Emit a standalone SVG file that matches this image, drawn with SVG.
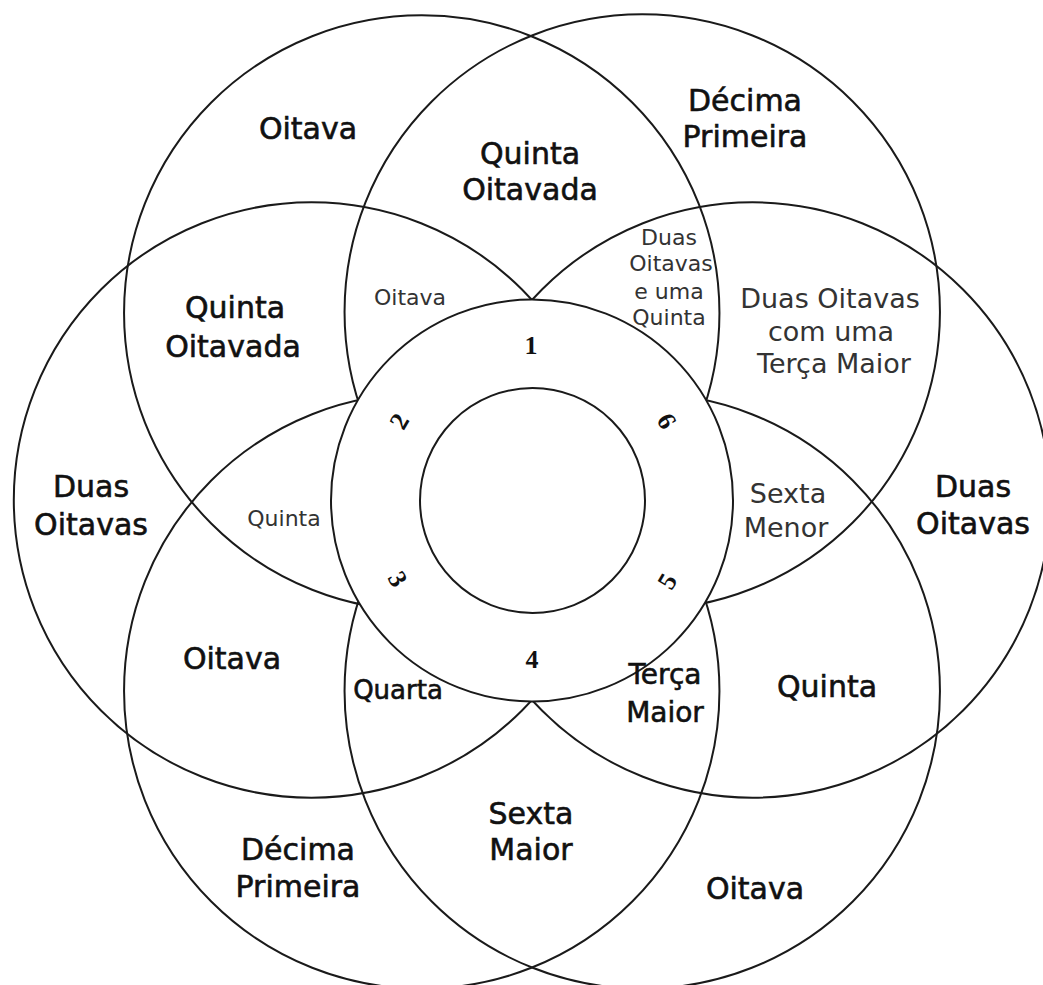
<svg xmlns="http://www.w3.org/2000/svg" width="1043" height="985" viewBox="0 0 1043 985">
<style>
.c{fill:none;stroke:#1a1a1a;stroke-width:2}
.ring{fill:#fff;stroke:#1a1a1a;stroke-width:2}
.b{font-family:"DejaVu Sans","Liberation Sans",sans-serif;font-size:30px;fill:#111;stroke:#111;stroke-width:0.6;text-anchor:middle}
.l{font-family:"DejaVu Sans","Liberation Sans",sans-serif;fill:#333;text-anchor:middle}
.n{font-family:"Liberation Serif","DejaVu Serif",serif;font-weight:bold;font-size:26px;fill:#111;text-anchor:middle}
</style>
<rect width="1043" height="985" fill="#fff"/>
<g id="circles">
<circle class="c" cx="752.5" cy="500" r="297.7"/>
<circle class="c" cx="642.25" cy="312" r="297.7"/>
<circle class="c" cx="421.75" cy="313" r="297.7"/>
<circle class="c" cx="311.5" cy="500" r="297.7"/>
<circle class="c" cx="421.75" cy="691" r="297.7"/>
<circle class="c" cx="642.25" cy="691" r="297.7"/>
</g>
<g id="ring">
<circle class="ring" cx="532" cy="500.5" r="201"/>
<circle class="ring" cx="532.5" cy="500.5" r="112.5"/>
</g>
<g id="numbers">
<text class="n" x="531" y="354">1</text>
<text class="n" transform="translate(399,421) rotate(-60)" y="9">2</text>
<text class="n" transform="translate(398,579) rotate(60)" y="9">3</text>
<text class="n" x="532" y="668">4</text>
<text class="n" transform="translate(667,581) rotate(-60)" y="9">5</text>
<text class="n" transform="translate(667,421) rotate(60)" y="9">6</text>
</g>
<g id="label-tl"><text class="b" x="308" y="139">Oitava</text></g>
<g id="label-top"><text class="b" x="530" y="164">Quinta</text><text class="b" x="530" y="200">Oitavada</text></g>
<g id="label-tr"><text class="b" x="745" y="111">Décima</text><text class="b" x="745" y="147">Primeira</text></g>
<g id="label-ul"><text class="b" x="235" y="318">Quinta</text><text class="b" x="233" y="357">Oitavada</text></g>
<g id="label-l"><text class="b" x="91" y="497">Duas</text><text class="b" x="91" y="535">Oitavas</text></g>
<g id="label-r"><text class="b" x="973" y="497">Duas</text><text class="b" x="973" y="534">Oitavas</text></g>
<g id="label-ll"><text class="b" x="232" y="669">Oitava</text></g>
<g id="label-lr"><text class="b" x="827" y="697">Quinta</text></g>
<g id="label-quarta"><text class="b" x="398" y="699" style="font-size:26px">Quarta</text></g>
<g id="label-terca"><text class="b" x="665" y="684" style="font-size:28px">Terça</text><text class="b" x="665" y="722" style="font-size:28px">Maior</text></g>
<g id="label-bottom"><text class="b" x="531" y="824">Sexta</text><text class="b" x="531" y="860">Maior</text></g>
<g id="label-bl"><text class="b" x="298" y="860">Décima</text><text class="b" x="298" y="897">Primeira</text></g>
<g id="label-br"><text class="b" x="755" y="899">Oitava</text></g>
<g id="label-oitava-small"><text class="l" x="410" y="305" font-size="22">Oitava</text></g>
<g id="label-quinta-small"><text class="l" x="284" y="526" font-size="22">Quinta</text></g>
<g id="label-duas-quinta"><text class="l" x="669" y="245" font-size="22">Duas</text><text class="l" x="671" y="271" font-size="22">Oitavas</text><text class="l" x="669" y="299" font-size="22">e uma</text><text class="l" x="669" y="325" font-size="22">Quinta</text></g>
<g id="label-duas-terca"><text class="l" x="830" y="308" font-size="27">Duas Oitavas</text><text class="l" x="831" y="341" font-size="27">com uma</text><text class="l" x="834" y="373" font-size="27">Terça Maior</text></g>
<g id="label-sexta-menor"><text class="l" x="788" y="503" font-size="27">Sexta</text><text class="l" x="786" y="537" font-size="27">Menor</text></g>
</svg>
